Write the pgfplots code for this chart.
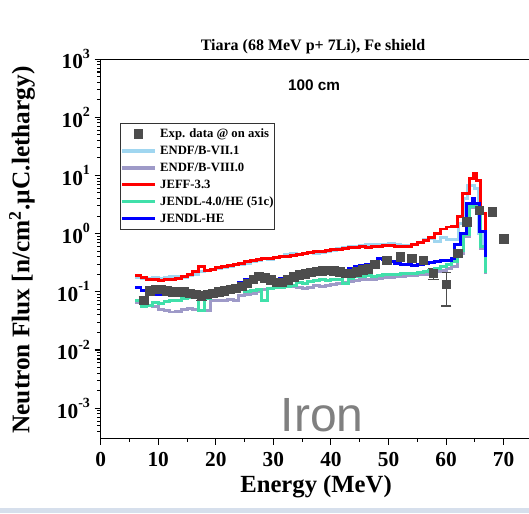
\documentclass[border=0pt]{standalone}
\usepackage{fontspec}
\setmainfont{Liberation Serif}
\newfontfamily\arial{Liberation Sans}
\usepackage{pgfplots}
\pgfplotsset{compat=1.18}
\definecolor{lblue}{RGB}{160,214,240}
\definecolor{lav}{RGB}{158,154,200}
\definecolor{teal2}{RGB}{64,224,170}
\definecolor{expg}{RGB}{77,77,77}
\definecolor{band}{RGB}{214,223,236}
\newcommand\tl[1]{10\raisebox{0.5em}{\fontsize{10.5}{11}\selectfont #1}}
\pgfplotsset{
  lineleg/.style={legend image code/.code={\draw[##1, line width=2.4pt] (0pt,0pt) -- (25pt,0pt);}},
  expleg/.style={legend image code/.code={\draw[##1] plot coordinates {(12.5pt,0pt)};}},
}
\begin{document}
\begin{tikzpicture}
\useasboundingbox (-75.5pt,-55.9pt) rectangle (321.2pt,328.9pt);
\fill[band] (-75.5pt,-55.9pt) rectangle (321.2pt,-52.1pt);
\begin{axis}[
  at={(0,0)}, anchor=south west,
  scale only axis, width=321.2pt, height=284.6pt,
  xmin=0, xmax=74.4, ymode=log, ymin=3e-4, ymax=1e3,
  axis lines*=left,
  axis line style={line width=0.8pt},
  xtick={0,10,...,70}, minor x tick num=1,
  xticklabels={0,10,20,30,40,50,60,70},
  ytick={1e-3,1e-2,1e-1,1,1e1,1e2,1e3},
  yticklabels={\tl{-3},\tl{-2},\tl{-1},\tl{0},\tl{1},\tl{2},\tl{3}},
  minor ytick={4e-4,5e-4,6e-4,7e-4,8e-4,9e-4,
    2e-3,3e-3,4e-3,5e-3,6e-3,7e-3,8e-3,9e-3,
    2e-2,3e-2,4e-2,5e-2,6e-2,7e-2,8e-2,9e-2,
    0.2,0.3,0.4,0.5,0.6,0.7,0.8,0.9,
    2,3,4,5,6,7,8,9,
    20,30,40,50,60,70,80,90,
    200,300,400,500,600,700,800,900},
  tick align=outside, major tick length=4.5pt, minor tick length=2.5pt,
  tick style={line width=0.8pt, black},
  ticklabel style={font=\bfseries\fontsize{16}{18}\selectfont},
  xticklabel style={yshift=-2pt},
  legend style={at={(0.045,0.831)}, anchor=north west,
    font=\bfseries\fontsize{9.5}{11}\selectfont,
    draw=black!80, line width=0.6pt, inner xsep=0pt, inner ysep=1.5pt,
    row sep=0pt, column sep=1.5pt,
    nodes={inner sep=1pt, text height=7.9pt, text depth=2.8pt}},
  legend cell align=left,
  lineleg,
]
\addplot[only marks, mark=square*, mark size=3.2pt, color=expg, expleg]
coordinates {
(7.5,0.072)(8.5,0.105)(9.5,0.11)(10.5,0.11)(11.5,0.105)(12.5,0.10)(13.5,0.10)(14.5,0.10)
(15.5,0.095)(16.5,0.09)(17.5,0.085)(18.5,0.09)(19.5,0.095)(20.5,0.10)(21.5,0.105)(22.5,0.11)
(23.5,0.115)(24.5,0.125)(25.5,0.14)(26.5,0.165)(27.5,0.185)(28.5,0.175)(29.5,0.16)(30.5,0.145)
(31.5,0.145)(32.5,0.16)(33.5,0.18)(34.5,0.195)(35.5,0.205)(36.5,0.215)(37.5,0.225)(38.5,0.23)
(39.5,0.235)(40.5,0.23)(41.5,0.22)(42.5,0.21)(43.5,0.21)(44.5,0.22)(45.5,0.24)(46.5,0.25)
(47.6,0.30)(49.7,0.35)(52.0,0.40)(54.0,0.38)(56.0,0.35)(57.8,0.21)(60.0,0.135)(62.0,0.46)
(63.6,1.6)(65.8,2.5)(68.0,2.35)(70.0,0.81)};
\addlegendentry{Exp. data @ on axis}
\addplot[forget plot, only marks, mark=square*, mark size=3.2pt, color=expg,
  error bars/.cd, y dir=both, y explicit,
  error bar style={line width=0.8pt, expg}, error mark options={rotate=90, mark size=4pt, line width=0.8pt, expg}]
coordinates {
(7.5,0.072) +- (0,0.012)
(17.5,0.085) +- (0,0.015)
(57.8,0.21) +- (0,0.045)
(60.0,0.135) +- (0,0.078)
};
% ENDF/B-VII.1
\addplot[const plot, color=lblue, line width=2.2pt] coordinates {
(6,0.175)(7,0.17)(8,0.17)(9,0.175)(10,0.17)(11,0.175)(12,0.18)(13,0.18)(14,0.175)(15,0.19)
(16,0.20)(17,0.22)(18,0.23)(19,0.24)(20,0.25)(21,0.26)(22,0.27)(23,0.29)(24,0.30)(25,0.31)
(26,0.33)(27,0.35)(28,0.38)(29,0.36)(30,0.39)(31,0.41)(32,0.44)(33,0.46)(34,0.44)(35,0.46)
(36,0.47)(37,0.46)(38,0.48)(39,0.50)(40,0.52)(41,0.55)(42,0.58)(43,0.60)(44,0.61)(45,0.63)
(46,0.64)(47,0.65)(48,0.64)(49,0.66)(50,0.67)(51,0.66)(52,0.63)(53,0.62)(54,0.64)(55,0.70)
(56,0.78)(57,0.82)(58,0.72)(59,0.85)(60,0.80)(61,0.80)(62.2,1.5)(63,4.0)(63.7,6.8)(65.0,6.0)
(65.6,1.0)(66.4,0.6)};
\addlegendentry{ENDF/B-VII.1}
% ENDF/B-VIII.0
\addplot[const plot, color=lav, line width=2.2pt] coordinates {
(6,0.065)(7,0.06)(8,0.058)(9,0.055)(10,0.05)(11,0.047)(12,0.045)(13,0.046)(14,0.05)(15,0.052)
(16,0.05)(17,0.048)(18,0.047)(19,0.07)(20,0.072)(21,0.07)(22,0.075)(23,0.072)(24,0.085)(25,0.09)
(26,0.095)(27,0.10)(28,0.11)(29,0.115)(30,0.12)(31,0.125)(32,0.13)(33,0.125)(34,0.12)(35,0.115)
(36,0.12)(37,0.13)(38,0.125)(39,0.13)(40,0.135)(41,0.14)(42,0.145)(43,0.15)(44,0.155)(45,0.16)
(46,0.16)(47,0.165)(48,0.17)(49,0.175)(50,0.175)(51,0.18)(52,0.185)(53,0.19)(54,0.19)(55,0.195)
(56,0.20)(57,0.21)(58,0.22)(59,0.23)(60,0.25)(61,0.27)(62,0.45)(63,0.9)(64,2.8)(65.3,2.3)
(66,0.55)(66.9,0.2)};
\addlegendentry{ENDF/B-VIII.0}
% JEFF-3.3
\addplot[const plot, color=red, line width=2.2pt] coordinates {
(6,0.19)(7,0.175)(8,0.16)(9,0.16)(10,0.155)(11,0.16)(12,0.165)(13,0.17)(14,0.185)(15,0.2)
(16,0.22)(17,0.27)(18,0.235)(19,0.24)(20,0.26)(21,0.27)(22,0.28)(23,0.30)(24,0.31)(25,0.33)
(26,0.34)(27,0.36)(28,0.37)(29,0.38)(30,0.39)(31,0.40)(32,0.41)(33,0.42)(34,0.44)(35,0.46)
(36,0.47)(37,0.49)(38,0.50)(39,0.52)(40,0.53)(41,0.54)(42,0.55)(43,0.57)(44,0.58)(45,0.59)
(46,0.58)(47,0.60)(48,0.59)(49,0.62)(50,0.63)(51,0.61)(52,0.60)(53,0.59)(54,0.66)(55,0.70)
(56,0.76)(57,0.86)(58,1.0)(59,1.2)(60,1.3)(61,1.35)(62,1.95)(62.8,4.9)(64.0,9.0)(64.7,10.9)
(65.3,8.3)(66.0,2.2)(66.9,0.52)};
\addlegendentry{JEFF-3.3}
% JENDL-4.0/HE
\addplot[const plot, color=teal2, line width=2.2pt] coordinates {
(6,0.072)(7,0.055)(8,0.058)(9,0.065)(10,0.062)(11,0.068)(12,0.07)(13,0.072)(14,0.078)(15,0.08)
(16,0.082)(17,0.048)(18,0.078)(19,0.085)(20,0.09)(21,0.095)(22,0.10)(23,0.105)(24,0.11)(25,0.10)
(26,0.105)(27,0.11)(28,0.07)(29,0.115)(30,0.12)(31,0.12)(32,0.125)(33,0.13)(34,0.145)(35,0.14)
(36,0.15)(37,0.155)(38,0.16)(39,0.155)(40,0.16)(41,0.165)(42,0.14)(43,0.17)(44,0.18)(45,0.18)
(46,0.19)(47,0.185)(48,0.19)(49,0.2)(50,0.195)(51,0.2)(52,0.205)(53,0.21)(54,0.21)(55,0.215)
(56,0.22)(57,0.23)(58,0.25)(59,0.27)(60,0.30)(61,0.33)(62,0.52)(63,0.95)(64,2.9)(65.3,2.4)
(66,0.6)(66.9,0.21)};
\addlegendentry{JENDL-4.0/HE (51c)}
% JENDL-HE
\addplot[const plot, color=blue, line width=2.2pt] coordinates {
(6,0.12)(7,0.105)(8,0.095)(9,0.09)(10,0.088)(11,0.09)(12,0.095)(13,0.10)(14,0.098)(15,0.095)
(16,0.093)(17,0.092)(18,0.095)(19,0.10)(20,0.105)(21,0.115)(22,0.12)(23,0.13)(24,0.145)(25,0.16)
(26,0.175)(27,0.20)(28,0.18)(29,0.17)(30,0.165)(31,0.17)(32,0.18)(33,0.19)(34,0.195)(35,0.20)
(36,0.205)(37,0.21)(38,0.21)(39,0.215)(40,0.22)(41,0.225)(42,0.235)(43,0.25)(44,0.27)(45,0.28)
(46,0.30)(47,0.32)(48,0.37)(49,0.36)(50,0.33)(51,0.31)(52,0.30)(53,0.29)(54,0.285)(55,0.29)
(56,0.31)(57,0.32)(58,0.33)(59,0.34)(60,0.35)(61,0.37)(61.5,0.64)(62.5,1.0)(63.5,3.3)(64.6,4.0)
(65.0,3.3)(65.8,1.07)(66.9,0.40)};
\addlegendentry{JENDL-HE}
\end{axis}
\draw[line width=0.8pt] (-0.4pt,284.6pt) -- (330pt,284.6pt);
\node[font=\bfseries\fontsize{12}{14}\selectfont] at (159.2pt,293.6pt) {Tiara (68 MeV p+ 7Li), Fe shield};
\node[font=\arial\bfseries\fontsize{11.5}{13}\selectfont] at (160pt,265.1pt) {100 cm};
\node[font=\arial\fontsize{36}{40}\selectfont, text=black!50] at (166pt,17.6pt) {Iron};
\node[font=\bfseries\fontsize{18.5}{20}\selectfont] at (161.5pt,-36.4pt) {Energy (MeV)};
\node[font=\bfseries\fontsize{19}{21}\selectfont, rotate=90] at (-59pt,141.4pt) {Neutron Flux [n/cm\textsuperscript{2}.µC.lethargy)};
\end{tikzpicture}
\end{document}
